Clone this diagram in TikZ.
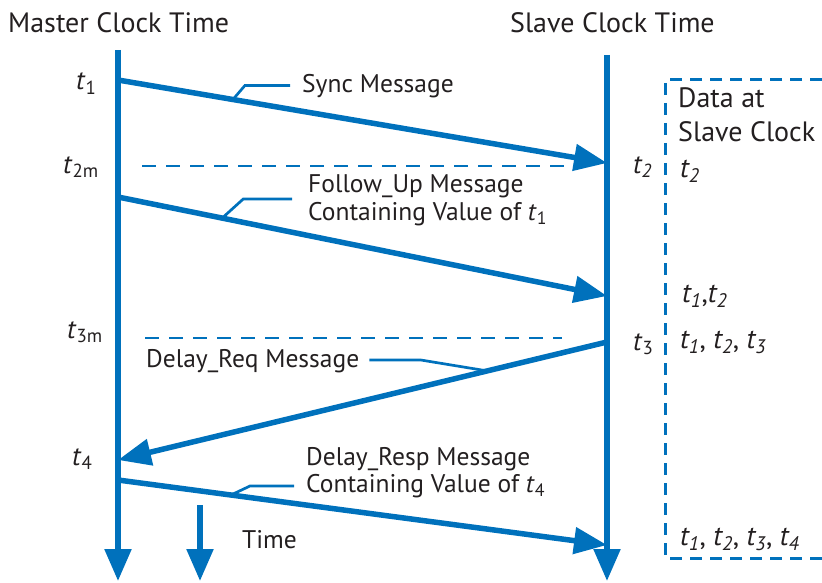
\documentclass[tikz,border=0pt]{standalone}
\usepackage{fontspec}
\setmainfont{PT Sans}
\usetikzlibrary{arrows.meta, positioning}
\definecolor{ptpblue}{RGB}{0,113,188}
\definecolor{ink}{RGB}{35,31,32}
\newcommand{\tl}[1]{\textit{t}\textsubscript{#1}}
\newcommand{\ti}[1]{\textit{t\textsubscript{#1}}}

\begin{document}
\begin{tikzpicture}[x=1pt, y=-1pt,
  font=\fontsize{25.5}{30}\selectfont, text=ink,
  axis/.style={draw=ptpblue, line width=5.5pt, -{Triangle[length=32pt, width=26pt]}},
  msg/.style={draw=ptpblue, line width=5.5pt, -{Triangle[length=33pt, width=26pt]}},
  leader/.style={draw=ptpblue, line width=2.7pt},
  guide/.style={draw=ptpblue, line width=2.7pt, dash pattern=on 14pt off 10pt},
  databox/.style={draw=ptpblue, line width=3pt, dash pattern=on 12pt off 8pt},
  lbl/.style={anchor=base west, inner sep=0pt},
  stamp/.style={anchor=base west, inner sep=0pt, font=\fontsize{27}{32}\selectfont},
  datatext/.style={anchor=base west, inner sep=0pt, font=\fontsize{28}{33}\selectfont},
  title/.style={anchor=base west, inner sep=0pt, font=\fontsize{28}{33}\selectfont}]
  \useasboundingbox (0,0) rectangle (822,583);

  % clock axes
  \coordinate (mtop) at (118,50);
  \coordinate (mbot) at (118,581);
  \coordinate (stop) at (607,55);
  \coordinate (sbot) at (607,581);
  \coordinate (timetop) at (200,505);
  \coordinate (timebot) at (200,581);
  \draw[axis] (mtop) -- (mbot);
  \draw[axis] (stop) -- (sbot);
  \draw[axis] (timetop) -- (timebot);

  \node[title] (mtitle) at (8,33) {Master Clock Time};
  \node[title] (stitle) at (510,33) {Slave Clock Time};
  \node[lbl] (timeT) at (242,548) {Time};

  % message end points
  \coordinate (t1m) at (118,80);
  \coordinate (t2s) at (607,163);
  \coordinate (fum) at (118,197);
  \coordinate (fus) at (607,296);
  \coordinate (t3s) at (607,342);
  \coordinate (t4m) at (118,460);
  \coordinate (rsm) at (118,480);
  \coordinate (rss) at (607,545);

  % messages
  \draw[msg] (t1m) -- coordinate[pos=0.235] (syncL) (t2s);
  \draw[msg] (fum) -- coordinate[pos=0.213] (fuL) (fus);
  \draw[msg] (t3s) -- coordinate[pos=0.245] (reqL) (t4m);
  \draw[msg] (rsm) -- coordinate[pos=0.231] (rspL) (rss);

  % dashed time marks
  \coordinate (g2a) at (142,166);
  \coordinate (g2b) at (580,166);
  \coordinate (g3a) at (145,338);
  \coordinate (g3b) at (562,338);
  \draw[guide] (g2a) -- (g2b);
  \draw[guide] (g3a) -- (g3b);

  % time stamps
  \node[stamp] (lt1) at (76,90) {\tl{1}};
  \node[stamp] (lt2m) at (63,173) {\tl{2m}};
  \node[stamp] (lt3m) at (67,338) {\tl{3m}};
  \node[stamp] (lt4) at (72,465) {\tl{4}};
  \node[stamp] (rt2) at (633,173) {\ti{2}};
  \node[stamp] (rt3) at (633,350) {\tl{3}};

  % message labels
  \node[lbl] (syncT) at (302,93) {Sync Message};
  \node[lbl] (fuT) at (308,193) {Follow\_Up Message};
  \node[lbl] (fuT2) at (308,220) {Containing Value of \tl{1}};
  \node[lbl] (reqT) at (146,367) {Delay\_Req Message};
  \node[lbl] (rspT) at (306,465) {Delay\_Resp Message};
  \node[lbl] (rspT2) at (306,492) {Containing Value of \tl{4}};

  \draw[leader, shorten >=12pt] (syncL) -- ++(12,-14) coordinate (syncK) -- (syncK -| syncT.west);
  \draw[leader, shorten >=16pt] (fuL) -- ++(21,-19) coordinate (fuK) -- (fuK -| fuT.west);
  \draw[leader, shorten >=10pt] (reqL) -- ++(-67,-11) coordinate (reqK) -- (reqK -| reqT.east);
  \draw[leader, shorten >=12pt] (rspL) -- ++(19,-9) coordinate (rspK) -- (rspK -| rspT.west);

  % data at slave clock
  \coordinate (boxtr) at (822,80);
  \coordinate (boxtl) at (665,80);
  \coordinate (boxbl) at (665,558);
  \coordinate (boxbr) at (822,558);
  \draw[databox] (boxtr) -- (boxtl) -- (boxbl) -- (boxbr);

  \node[datatext] (dataA) at (678,108) {Data at};
  \node[datatext] (dataB) at (678,142) {Slave Clock};
  \node[datatext] (d1) at (680,177) {\ti{2}};
  \node[datatext] (d2) at (682,302) {\ti{1},\ti{2}};
  \node[datatext] (d3) at (680,348) {\ti{1}, \ti{2}, \ti{3}};
  \node[datatext] (d4) at (680,545) {\ti{1}, \ti{2}, \ti{3}, \ti{4}};
\end{tikzpicture}
\end{document}
